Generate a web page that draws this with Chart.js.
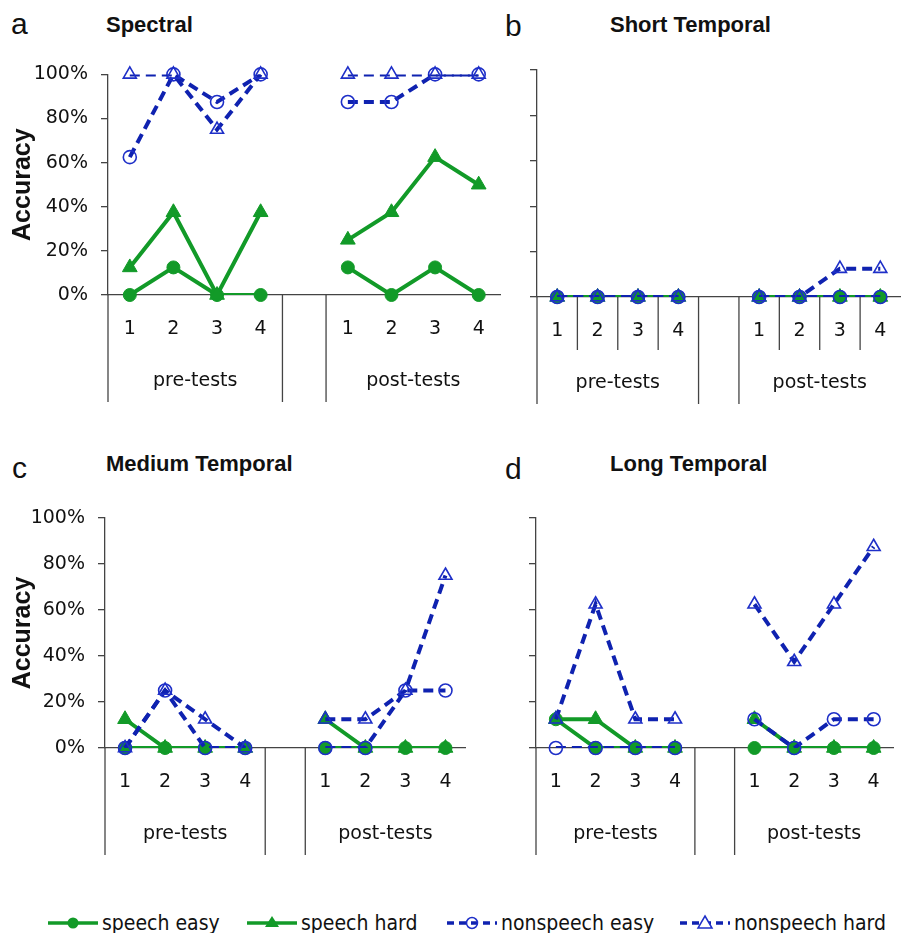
<!DOCTYPE html>
<html>
<head>
<meta charset="utf-8">
<script src="https://cdn.jsdelivr.net/npm/chart.js@4.4.1/dist/chart.umd.min.js"></script>
<style>
body { margin: 0; width: 901px; height: 933px; overflow: hidden; background: #fff; position: relative; font-family: 'DejaVu Sans', sans-serif; }
.box { position: absolute; }
.letter { position: absolute; font-family: 'Liberation Sans', Arial, sans-serif; font-size: 30px; line-height: 1; color: #111; }
.ttl { position: absolute; font-family: 'Liberation Sans', Arial, sans-serif; font-weight: bold; font-size: 22px; line-height: 1; color: #111; }
.lg { position: absolute; top: 910px; height: 26px; display: flex; align-items: center; font-family: 'DejaVu Sans Condensed', 'DejaVu Sans', sans-serif; font-stretch: condensed; font-size: 21px; color: #111; }
.lg svg { margin-right: 4px; }
</style>
</head>
<body>
<div class="letter" style="left:11px;top:9px">a</div>
<div class="ttl" style="left:106px;top:14px">Spectral</div>
<div class="letter" style="left:505px;top:11px">b</div>
<div class="ttl" style="left:610px;top:14px">Short Temporal</div>
<div class="letter" style="left:12px;top:453px">c</div>
<div class="ttl" style="left:106px;top:453px">Medium Temporal</div>
<div class="letter" style="left:505px;top:454px">d</div>
<div class="ttl" style="left:610px;top:453px">Long Temporal</div>

<div class="lg" style="left:48px"><svg width="50" height="20"><line x1="0" y1="10" x2="50" y2="10" stroke="#129a28" stroke-width="3.5"/><circle cx="25" cy="10" r="5.5" fill="#129a28"/></svg><span>speech easy</span></div>
<div class="lg" style="left:247px"><svg width="50" height="20"><line x1="0" y1="10" x2="50" y2="10" stroke="#129a28" stroke-width="3.5"/><polygon points="25,3 32,14 18,14" fill="#129a28"/></svg><span>speech hard</span></div>
<div class="lg" style="left:447px"><svg width="50" height="20"><line x1="0" y1="10" x2="50" y2="10" stroke="#0f22b0" stroke-width="3.5" stroke-dasharray="7,5"/><circle cx="25" cy="10" r="5.5" fill="none" stroke="#1e2fc8" stroke-width="1.5"/></svg><span>nonspeech easy</span></div>
<div class="lg" style="left:680px"><svg width="50" height="20"><line x1="0" y1="10" x2="50" y2="10" stroke="#0f22b0" stroke-width="3.5" stroke-dasharray="7,5"/><polygon points="25,3 32,15 18,15" fill="#fff" stroke="#1e2fc8" stroke-width="1.5"/></svg><span>nonspeech hard</span></div>

<script>
// categories: four pre-test sessions, an empty slot, four post-test sessions
const sessions = ['1', '2', '3', '4', '', '1', '2', '3', '4'];
const groups = ['pre-tests', 'post-tests'];
const seriesNames = ['speech easy', 'speech hard', 'nonspeech easy', 'nonspeech hard'];
const yTicks = [0, 20, 40, 60, 80, 100];

// accuracy (%) per session, null = gap between pre and post
const spectralSpeechEasy     = [0, 12.5, 0, 0, null, 12.5, 0, 12.5, 0];
const spectralSpeechHard     = [12.5, 37.5, 0, 37.5, null, 25, 37.5, 62.5, 50];
const spectralNonspeechEasy  = [62.5, 100, 87.5, 100, null, 87.5, 87.5, 100, 100];
const spectralNonspeechHard  = [100, 100, 75, 100, null, 100, 100, 100, 100];

const shortSpeechEasy        = [0, 0, 0, 0, null, 0, 0, 0, 0];
const shortSpeechHard        = [0, 0, 0, 0, null, 0, 0, 0, 0];
const shortNonspeechEasy     = [0, 0, 0, 0, null, 0, 0, 0, 0];
const shortNonspeechHard     = [0, 0, 0, 0, null, 0, 0, 12.5, 12.5];

const mediumSpeechEasy       = [0, 0, 0, 0, null, 0, 0, 0, 0];
const mediumSpeechHard       = [12.5, 0, 0, 0, null, 12.5, 0, 0, 0];
const mediumNonspeechEasy    = [0, 25, 0, 0, null, 0, 0, 25, 25];
const mediumNonspeechHard    = [0, 25, 12.5, 0, null, 12.5, 12.5, 25, 75];

const longSpeechEasy         = [12.5, 0, 0, 0, null, 0, 0, 0, 0];
const longSpeechHard         = [12.5, 12.5, 0, 0, null, 12.5, 0, 0, 0];
const longNonspeechEasy      = [0, 0, 0, 0, null, 12.5, 0, 12.5, 12.5];
const longNonspeechHard      = [12.5, 62.5, 12.5, 12.5, null, 62.5, 37.5, 62.5, 87.5];

const GREEN = '#129a28';
const BLUE = '#0f22b0';
const BLUE_MK = '#1e2fc8';
const AXIS = '#444';

// draws the session dividers and the pre/post group labels under the x axis
const groupAxis = {
    id: 'groupAxis',
    afterDraw(chart, args, opts) {
        const {ctx, chartArea, scales: {x}} = chart;
        const y0 = chartArea.bottom;
        const mid = (a, b) => (x.getPixelForValue(a) + x.getPixelForValue(b)) / 2;
        ctx.save();
        ctx.strokeStyle = AXIS;
        ctx.lineWidth = 1.3;
        const line = (px, len) => {
            ctx.beginPath();
            ctx.moveTo(px, y0);
            ctx.lineTo(px, y0 + len);
            ctx.stroke();
        };
        line(chartArea.left, opts.divLen);
        line(mid(3, 4), opts.divLen);
        line(mid(4, 5), opts.divLen);
        if (opts.inner) {
            [[0, 1], [1, 2], [2, 3], [5, 6], [6, 7], [7, 8]].forEach(([a, b]) => line(mid(a, b), opts.innerLen));
        }
        ctx.fillStyle = '#111';
        ctx.font = '19px "DejaVu Sans"';
        ctx.textAlign = 'center';
        ctx.textBaseline = 'middle';
        ctx.fillText(groups[0], mid(1, 2), y0 + opts.labelY);
        ctx.fillText(groups[1], mid(6, 7), y0 + opts.labelY);
        ctx.restore();
    }
};

// each series is drawn as a line clipped to the plot area plus an unclipped marker layer
const styles = [
    { color: GREEN, dash: [], shape: 'circle', r: 6.5, fill: GREEN, mk: GREEN, mkw: 1 },
    { color: GREEN, dash: [], shape: 'triangle', r: 8.5, fill: GREEN, mk: GREEN, mkw: 1 },
    { color: BLUE, dash: [10, 6], shape: 'circle', r: 6.5, fill: 'rgba(0,0,0,0)', mk: BLUE_MK, mkw: 1.6 },
    { color: BLUE, dash: [10, 6], shape: 'triangle', r: 7.5, fill: 'rgba(0,0,0,0)', mk: BLUE_MK, mkw: 1.6 }
];

function makeDatasets(series) {
    const out = [];
    series.forEach((data, i) => {
        const s = styles[i];
        out.push({ label: seriesNames[i], data: data, order: 20 - 2 * i, clip: 0,
                   borderColor: s.color, borderWidth: 4, borderDash: s.dash, pointRadius: 0 });
        out.push({ label: seriesNames[i], data: data, order: 19 - 2 * i, clip: false, showLine: false,
                   pointStyle: s.shape, pointRadius: s.r, pointBackgroundColor: s.fill,
                   pointBorderColor: s.mk, pointBorderWidth: s.mkw });
    });
    return out;
}

function makePanel(p, series) {
    const wrap = document.createElement('div');
    wrap.className = 'box';
    wrap.style.left = p.left + 'px';
    wrap.style.top = p.top + 'px';
    wrap.style.width = p.width + 'px';
    wrap.style.height = p.height + 'px';
    const cv = document.createElement('canvas');
    wrap.appendChild(cv);
    document.body.appendChild(wrap);

    return new Chart(cv, {
        type: 'line',
        data: { labels: sessions, datasets: makeDatasets(series) },
        plugins: [groupAxis],
        options: {
            responsive: true,
            maintainAspectRatio: false,
            animation: false,
            layout: { padding: { top: p.padTop, right: p.padRight, left: 0, bottom: 0 } },
            plugins: {
                legend: { display: false },
                tooltip: { enabled: false },
                groupAxis: { divLen: 107, innerLen: 53, inner: p.inner, labelY: 86 }
            },
            scales: {
                x: {
                    type: 'category',
                    offset: true,
                    grid: { display: false },
                    border: { display: true, color: AXIS, width: 1.3 },
                    ticks: { color: '#111', font: { family: 'DejaVu Sans', size: 19 }, padding: 15, maxRotation: 0, autoSkip: false },
                    afterFit: s => { s.height = p.xAxisH; }
                },
                y: {
                    min: 0,
                    max: 100,
                    afterBuildTicks: s => { s.ticks = yTicks.map(v => ({ value: v })); },
                    grid: { display: true, drawOnChartArea: false, drawTicks: true, tickLength: 7, color: AXIS, lineWidth: 1.3 },
                    border: { display: true, color: AXIS, width: 1.3 },
                    ticks: { display: p.showY, color: '#111', font: { family: 'DejaVu Sans', size: 19 }, padding: 13,
                             callback: v => v + '%' },
                    title: { display: p.showY, text: 'Accuracy', color: '#111',
                             font: { family: 'Liberation Sans', size: 25, weight: 'bold' }, padding: { top: 8, bottom: 0 } },
                    afterFit: s => { s.width = p.yAxisW; }
                }
            }
        }
    });
}

makePanel({ left: 0, top: 50, width: 510, height: 360, padTop: 22, padRight: 6, yAxisW: 108, xAxisH: 115, showY: true, inner: false },
    [spectralSpeechEasy, spectralSpeechHard, spectralNonspeechEasy, spectralNonspeechHard]);
makePanel({ left: 450, top: 50, width: 460, height: 360, padTop: 20, padRight: 0, yAxisW: 87, xAxisH: 113, showY: false, inner: true },
    [shortSpeechEasy, shortSpeechHard, shortNonspeechEasy, shortNonspeechHard]);
makePanel({ left: 0, top: 490, width: 475, height: 372, padTop: 28, padRight: 6, yAxisW: 105, xAxisH: 114, showY: true, inner: false },
    [mediumSpeechEasy, mediumSpeechHard, mediumNonspeechEasy, mediumNonspeechHard]);
makePanel({ left: 450, top: 490, width: 453, height: 372, padTop: 28, padRight: 0, yAxisW: 86, xAxisH: 114, showY: false, inner: false },
    [longSpeechEasy, longSpeechHard, longNonspeechEasy, longNonspeechHard]);
</script>
</body>
</html>
